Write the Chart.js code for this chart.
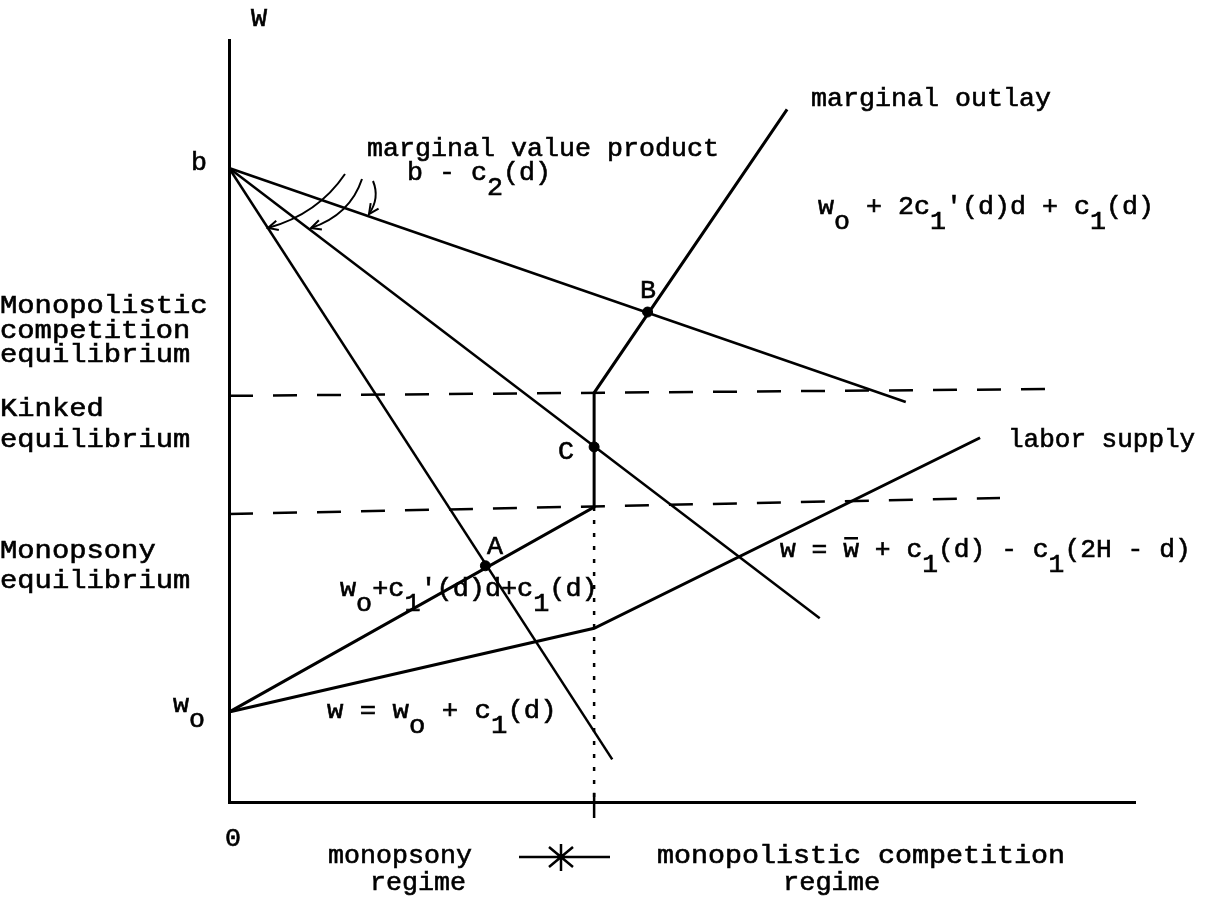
<!DOCTYPE html>
<html>
<head>
<meta charset="utf-8">
<title>Monopsony / monopolistic competition regimes</title>
<script src="https://cdn.jsdelivr.net/npm/chart.js@4.4.1/dist/chart.umd.min.js"></script>
<style>
    html, body { margin: 0; padding: 0; background: #fff; }
    #wrap { width: 1210px; height: 905px; }
</style>
</head>
<body>
<div id="wrap"><canvas id="chart" width="1210" height="905"></canvas></div>
<script>
// axis ranges (d on x, W on y)
const xRange = [0, 100];
const yRange = [0, 100];

// marginal value product lines, all starting at b
const mvpHigh = [[0, 83.2], [74.7, 52.5]];
const mvpMid = [[0, 83.2], [65.2, 24.1]];
const mvpLow = [[0, 83.2], [42.3, 5.6]];

// marginal outlay (kinked) and labor supply, starting at w0
const outlay = [[0, 11.8], [40.3, 38.7], [40.3, 53.7], [61.6, 90.9]];
const laborSupply = [[0, 11.8], [40.3, 22.8], [82.9, 47.8]];

// equilibrium boundaries (dashed) and regime split (dotted)
const upperBound = [[0, 53.3], [91.2, 54.2]];
const lowerBound = [[0, 37.8], [85.1, 39.9]];
const regimeSplit = [[40.3, 38.7], [40.3, 0]];
const regimeTick = [[40.3, 1.2], [40.3, -2.1]];

// equilibrium points
const pointNames = ['A', 'B', 'C'];
const pointXY = [[28.3, 31.0], [46.2, 64.3], [40.3, 46.6]];

// text: [text, left, baseline, pitch]   _ = subscript, ^ = bar
const labels = [
    ['W', 251, 26, 16],
    ['b', 191, 170, 16],
    ['marginal value product', 367, 156, 16],
    ['b - c_2(d)', 407, 180, 16],
    ['marginal outlay', 811, 106, 16],
    ["w_o + 2c_1'(d)d + c_1(d)", 818, 214, 16],
    ['Monopolistic', 0, 313, 17.3],
    ['competition', 0, 338, 17.3],
    ['equilibrium', 0, 362, 17.3],
    ['B', 640, 298, 16],
    ['Kinked', 0, 416, 17.3],
    ['equilibrium', 0, 447, 17.3],
    ['C', 558, 459, 16],
    ['labor supply', 1008, 447, 15.6],
    ['Monopsony', 0, 558, 17.3],
    ['equilibrium', 0, 588, 17.3],
    ['A', 487, 554, 16],
    ['w = ^w + c_1(d) - c_1(2H - d)', 780, 557, 15.8],
    ["w_o+c_1'(d)d+c_1(d)", 340, 596, 16.1],
    ['w_o', 173, 712, 16],
    ['w = w_o + c_1(d)', 327, 718, 16.4],
    ['0', 225, 846, 16],
    ['monopsony', 328, 863, 16],
    ['regime', 370, 890, 16],
    ['monopolistic competition', 657, 863, 17],
    ['regime', 783, 890, 16.2]
];

// curved pointers from the "marginal value product" label: start, control, end
const pointers = [
    [[345, 174], [318, 214], [268, 228]],
    [[362, 179], [350, 215], [311, 228]],
    [[373, 181], [380, 198], [369, 214]]
];

const FONT = '26px "Liberation Mono", monospace';
const SUB_DY = 15;

function toXY(pairs) {
    return pairs.map(p => ({ x: p[0], y: p[1] }));
}

function lineSet(pairs, width, dash) {
    return {
        data: toXY(pairs),
        showLine: true,
        borderColor: '#000',
        borderWidth: width,
        borderDash: dash || [],
        pointRadius: 0,
        tension: 0,
        clip: false
    };
}

// draw one label on a fixed typewriter pitch
function drawLabel(ctx, label) {
    const [text, x0, y, pitch] = label;
    const glyphs = [];
    for (let i = 0; i < text.length; i++) {
        let ch = text[i], dy = 0, bar = false;
        if (ch === '_') { ch = text[++i]; dy = SUB_DY; }
        else if (ch === '^') { ch = text[++i]; bar = true; }
        glyphs.push({ ch, dy, bar });
    }
    ctx.font = FONT;
    const adv = ctx.measureText('M').width;
    const sx = pitch / adv;
    ctx.save();
    ctx.translate(x0, y);
    ctx.scale(sx, 1);
    glyphs.forEach((g, i) => {
        ctx.fillText(g.ch, i * adv, g.dy);
        ctx.strokeText(g.ch, i * adv, g.dy);
        if (g.bar) {
            ctx.fillRect(i * adv + 1, -20, adv - 2, 2.5);
        }
    });
    ctx.restore();
}

function drawPointer(ctx, p) {
    const [s, c, e] = p;
    ctx.beginPath();
    ctx.moveTo(s[0], s[1]);
    ctx.quadraticCurveTo(c[0], c[1], e[0], e[1]);
    ctx.stroke();
    const ang = Math.atan2(e[1] - c[1], e[0] - c[0]);
    const len = 11;
    ctx.beginPath();
    ctx.moveTo(e[0] - len * Math.cos(ang - 0.45), e[1] - len * Math.sin(ang - 0.45));
    ctx.lineTo(e[0], e[1]);
    ctx.lineTo(e[0] - len * Math.cos(ang + 0.45), e[1] - len * Math.sin(ang + 0.45));
    ctx.stroke();
}

const diagramText = {
    id: 'diagramText',
    beforeDraw(chart) {
        const ctx = chart.ctx;
        ctx.save();
        ctx.fillStyle = '#fff';
        ctx.fillRect(0, 0, chart.width, chart.height);
        ctx.restore();
    },
    afterDraw(chart) {
        const ctx = chart.ctx;
        ctx.save();
        ctx.fillStyle = '#000';
        ctx.strokeStyle = '#000';
        ctx.textBaseline = 'alphabetic';
        ctx.textAlign = 'left';
        ctx.lineWidth = 0.6;
        labels.forEach(l => drawLabel(ctx, l));

        ctx.lineWidth = 2;
        pointers.forEach(p => drawPointer(ctx, p));

        // regime marker under the axis
        ctx.lineWidth = 2.5;
        ctx.beginPath();
        ctx.moveTo(519, 857); ctx.lineTo(610, 857);
        ctx.moveTo(561, 844); ctx.lineTo(561, 871);
        ctx.moveTo(549, 847); ctx.lineTo(573, 867);
        ctx.moveTo(549, 867); ctx.lineTo(573, 847);
        ctx.stroke();
        ctx.restore();
    }
};

new Chart(document.getElementById('chart'), {
    type: 'scatter',
    data: {
        datasets: [
            lineSet(mvpHigh, 2.5),
            lineSet(mvpMid, 2.5),
            lineSet(mvpLow, 2.5),
            lineSet(outlay, 3),
            lineSet(laborSupply, 3),
            lineSet(upperBound, 2.5, [24, 20]),
            lineSet(lowerBound, 2.5, [24, 20]),
            lineSet(regimeSplit, 2.5, [4, 9]),
            lineSet(regimeTick, 2.5),
            {
                label: pointNames.join(','),
                data: toXY(pointXY),
                showLine: false,
                pointRadius: 5,
                pointBackgroundColor: '#000',
                pointBorderColor: '#000',
                clip: false
            }
        ]
    },
    options: {
        responsive: false,
        animation: false,
        events: [],
        layout: {
            padding: { left: 229, right: 75, top: 40, bottom: 103 }
        },
        plugins: {
            legend: { display: false },
            tooltip: { enabled: false }
        },
        scales: {
            x: {
                type: 'linear',
                min: xRange[0],
                max: xRange[1],
                ticks: { display: false },
                grid: { display: false, drawTicks: false, tickLength: 0 },
                border: { display: true, width: 3, color: '#000' }
            },
            y: {
                type: 'linear',
                min: yRange[0],
                max: yRange[1],
                ticks: { display: false },
                grid: { display: false, drawTicks: false, tickLength: 0 },
                border: { display: true, width: 3, color: '#000' }
            }
        }
    },
    plugins: [diagramText]
});
</script>
</body>
</html>
